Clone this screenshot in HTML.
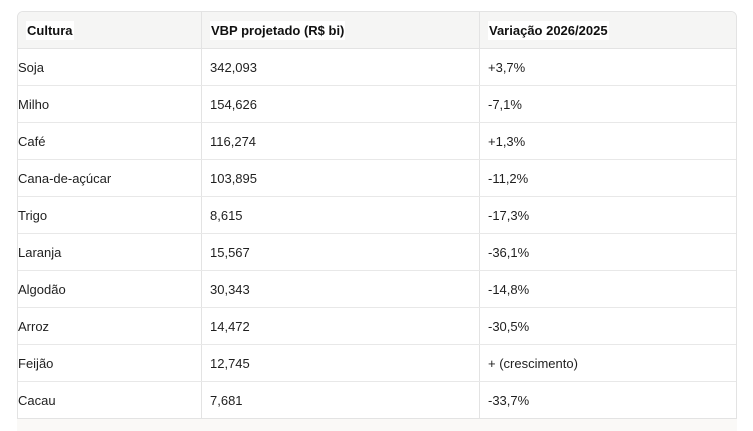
<!DOCTYPE html>
<html>
<head>
<meta charset="utf-8">
<style>
  html,body{margin:0;padding:0;background:#ffffff;}
  body{width:753px;height:431px;position:relative;overflow:hidden;
       font-family:"Liberation Sans",sans-serif;font-size:13px;color:#1f1f1f;}
  .band{position:absolute;left:17px;top:419px;width:720px;height:12px;background:#faf9f7;}
  .tbl{position:absolute;left:17px;top:11px;width:718px;height:406px;
       border:1px solid #e3e3e3;border-radius:6px 6px 0 0;background:#fff;overflow:hidden;}
  .head{position:absolute;left:0;top:0;width:718px;height:36px;background:#f5f5f4;border-bottom:1px solid #e3e3e3;}
  .vline{position:absolute;top:0;width:1px;height:406px;background:#e3e3e3;}
  .hline{position:absolute;left:0;width:718px;height:1px;background:#e8e8e8;}
  .c{position:absolute;height:36px;line-height:36px;white-space:nowrap;}
  .h{font-weight:bold;color:#111;}
  .h span{background:#fff;padding:2px 1px;}
</style>
</head>
<body>
<div class="band"></div>
<div class="tbl">
  <div class="head"></div>
  <div class="vline" style="left:183px"></div>
  <div class="vline" style="left:461px"></div>

  <div class="hline" style="top:73px"></div>
  <div class="hline" style="top:110px"></div>
  <div class="hline" style="top:147px"></div>
  <div class="hline" style="top:184px"></div>
  <div class="hline" style="top:221px"></div>
  <div class="hline" style="top:258px"></div>
  <div class="hline" style="top:295px"></div>
  <div class="hline" style="top:332px"></div>
  <div class="hline" style="top:369px"></div>

  <div class="c h" style="left:8px;top:1px"><span>Cultura</span></div>
  <div class="c h" style="left:192px;top:1px"><span>VBP projetado (R$ bi)</span></div>
  <div class="c h" style="left:470px;top:1px"><span>Variação 2026/2025</span></div>

  <div class="c" style="left:0px;top:38px">Soja</div>
  <div class="c" style="left:192px;top:38px">342,093</div>
  <div class="c" style="left:470px;top:38px">+3,7%</div>

  <div class="c" style="left:0px;top:75px">Milho</div>
  <div class="c" style="left:192px;top:75px">154,626</div>
  <div class="c" style="left:470px;top:75px">-7,1%</div>

  <div class="c" style="left:0px;top:112px">Café</div>
  <div class="c" style="left:192px;top:112px">116,274</div>
  <div class="c" style="left:470px;top:112px">+1,3%</div>

  <div class="c" style="left:0px;top:149px">Cana-de-açúcar</div>
  <div class="c" style="left:192px;top:149px">103,895</div>
  <div class="c" style="left:470px;top:149px">-11,2%</div>

  <div class="c" style="left:0px;top:186px">Trigo</div>
  <div class="c" style="left:192px;top:186px">8,615</div>
  <div class="c" style="left:470px;top:186px">-17,3%</div>

  <div class="c" style="left:0px;top:223px">Laranja</div>
  <div class="c" style="left:192px;top:223px">15,567</div>
  <div class="c" style="left:470px;top:223px">-36,1%</div>

  <div class="c" style="left:0px;top:260px">Algodão</div>
  <div class="c" style="left:192px;top:260px">30,343</div>
  <div class="c" style="left:470px;top:260px">-14,8%</div>

  <div class="c" style="left:0px;top:297px">Arroz</div>
  <div class="c" style="left:192px;top:297px">14,472</div>
  <div class="c" style="left:470px;top:297px">-30,5%</div>

  <div class="c" style="left:0px;top:334px">Feijão</div>
  <div class="c" style="left:192px;top:334px">12,745</div>
  <div class="c" style="left:470px;top:334px">+ (crescimento)</div>

  <div class="c" style="left:0px;top:371px">Cacau</div>
  <div class="c" style="left:192px;top:371px">7,681</div>
  <div class="c" style="left:470px;top:371px">-33,7%</div>
</div>
</body>
</html>
